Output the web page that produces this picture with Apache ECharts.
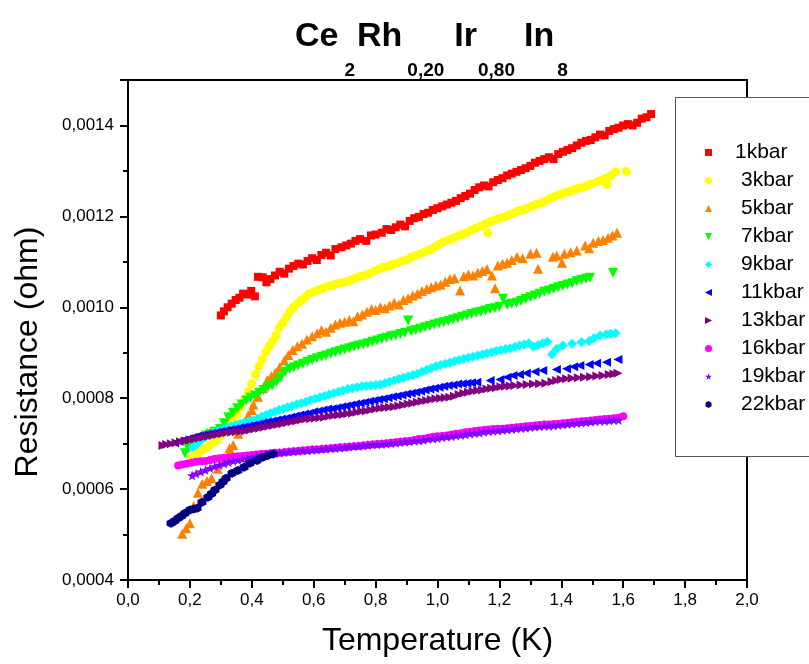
<!DOCTYPE html>
<html>
<head>
<meta charset="utf-8">
<script src="https://cdn.jsdelivr.net/npm/echarts@6/dist/echarts.min.js"></script>
<style>
  html, body { margin: 0; padding: 0; background: #fff; }
  #chart { width: 809px; height: 664px; }
</style>
</head>
<body>
<div id="chart"></div>
<script>
// Resistance R (ohm) versus temperature T (K), one list of [T, R] per pressure.
const p1kbar = [[0.300,0.000982],[0.310,0.000991],[0.322,0.001000],[0.335,0.001008],[0.348,0.001016],[0.360,0.001021],[0.372,0.001030],[0.385,0.001028],[0.398,0.001036],[0.410,0.001024],[0.420,0.001067],[0.435,0.001066],[0.447,0.001055],[0.460,0.001062],[0.475,0.001070],[0.490,0.001078],[0.505,0.001074],[0.520,0.001085],[0.535,0.001091],[0.550,0.001096],[0.565,0.001094],[0.580,0.001102],[0.595,0.001108],[0.610,0.001104],[0.625,0.001115],[0.640,0.001120],[0.655,0.001114],[0.670,0.001128],[0.690,0.001132],[0.705,0.001136],[0.720,0.001140],[0.735,0.001146],[0.750,0.001150],[0.770,0.001146],[0.785,0.001158],[0.800,0.001160],[0.820,0.001164],[0.835,0.001172],[0.850,0.001170],[0.865,0.001176],[0.880,0.001182],[0.895,0.001178],[0.910,0.001190],[0.925,0.001196],[0.940,0.001199],[0.955,0.001205],[0.970,0.001208],[0.985,0.001214],[1.000,0.001218],[1.015,0.001222],[1.030,0.001226],[1.045,0.001230],[1.060,0.001234],[1.075,0.001240],[1.090,0.001245],[1.105,0.001250],[1.120,0.001258],[1.135,0.001264],[1.150,0.001268],[1.165,0.001266],[1.180,0.001275],[1.195,0.001280],[1.210,0.001284],[1.225,0.001290],[1.240,0.001294],[1.255,0.001298],[1.270,0.001302],[1.285,0.001306],[1.300,0.001311],[1.315,0.001318],[1.330,0.001322],[1.345,0.001326],[1.360,0.001330],[1.375,0.001326],[1.390,0.001337],[1.405,0.001342],[1.420,0.001346],[1.435,0.001350],[1.450,0.001356],[1.465,0.001362],[1.480,0.001366],[1.495,0.001368],[1.510,0.001374],[1.525,0.001380],[1.540,0.001378],[1.555,0.001388],[1.570,0.001392],[1.585,0.001395],[1.600,0.001400],[1.615,0.001403],[1.630,0.001400],[1.645,0.001406],[1.660,0.001415],[1.675,0.001418],[1.690,0.001425]];

const p3kbar = [[0.205,0.000668],[0.215,0.000672],[0.228,0.000680],[0.240,0.000686],[0.252,0.000690],[0.265,0.000697],[0.278,0.000703],[0.290,0.000710],[0.302,0.000718],[0.315,0.000728],[0.328,0.000740],[0.340,0.000750],[0.352,0.000764],[0.364,0.000780],[0.376,0.000796],[0.388,0.000814],[0.400,0.000832],[0.412,0.000852],[0.423,0.000870],[0.434,0.000885],[0.445,0.000902],[0.456,0.000914],[0.467,0.000925],[0.478,0.000938],[0.489,0.000955],[0.500,0.000966],[0.512,0.000978],[0.523,0.000990],[0.535,0.001000],[0.548,0.001008],[0.560,0.001016],[0.573,0.001022],[0.585,0.001030],[0.600,0.001034],[0.615,0.001038],[0.630,0.001042],[0.645,0.001046],[0.660,0.001048],[0.675,0.001052],[0.690,0.001054],[0.705,0.001056],[0.720,0.001060],[0.735,0.001064],[0.750,0.001068],[0.765,0.001070],[0.780,0.001074],[0.795,0.001079],[0.810,0.001084],[0.825,0.001088],[0.840,0.001090],[0.855,0.001094],[0.870,0.001097],[0.885,0.001102],[0.900,0.001104],[0.915,0.001110],[0.930,0.001114],[0.945,0.001118],[0.960,0.001122],[0.975,0.001126],[0.990,0.001132],[1.005,0.001138],[1.020,0.001144],[1.035,0.001148],[1.050,0.001152],[1.065,0.001156],[1.080,0.001160],[1.095,0.001164],[1.110,0.001170],[1.125,0.001174],[1.140,0.001178],[1.155,0.001184],[1.163,0.001164],[1.170,0.001188],[1.185,0.001192],[1.200,0.001196],[1.215,0.001198],[1.230,0.001203],[1.245,0.001207],[1.260,0.001212],[1.275,0.001214],[1.290,0.001218],[1.305,0.001222],[1.320,0.001226],[1.335,0.001230],[1.350,0.001234],[1.365,0.001240],[1.380,0.001244],[1.395,0.001248],[1.410,0.001252],[1.425,0.001254],[1.440,0.001258],[1.455,0.001262],[1.470,0.001264],[1.485,0.001268],[1.500,0.001272],[1.515,0.001276],[1.530,0.001280],[1.545,0.001284],[1.548,0.001270],[1.560,0.001290],[1.575,0.001298],[1.610,0.001299]];

const p5kbar = [[0.175,0.000502],[0.188,0.000514],[0.200,0.000525],[0.212,0.000563],[0.226,0.000592],[0.240,0.000612],[0.255,0.000618],[0.270,0.000624],[0.290,0.000645],[0.310,0.000668],[0.328,0.000690],[0.340,0.000697],[0.356,0.000722],[0.372,0.000745],[0.388,0.000762],[0.400,0.000774],[0.405,0.000786],[0.420,0.000803],[0.436,0.000822],[0.450,0.000840],[0.463,0.000848],[0.476,0.000856],[0.490,0.000868],[0.505,0.000883],[0.518,0.000895],[0.532,0.000906],[0.547,0.000914],[0.562,0.000920],[0.578,0.000929],[0.595,0.000936],[0.611,0.000943],[0.625,0.000950],[0.640,0.000946],[0.655,0.000955],[0.670,0.000962],[0.685,0.000966],[0.700,0.000968],[0.715,0.000972],[0.728,0.000969],[0.742,0.000980],[0.757,0.000984],[0.772,0.000990],[0.787,0.000996],[0.800,0.000994],[0.815,0.001000],[0.830,0.000998],[0.845,0.001004],[0.860,0.001010],[0.875,0.001006],[0.890,0.001016],[0.905,0.001020],[0.920,0.001026],[0.935,0.001030],[0.950,0.001036],[0.965,0.001040],[0.980,0.001044],[0.995,0.001048],[1.010,0.001050],[1.025,0.001056],[1.040,0.001062],[1.055,0.001064],[1.073,0.001037],[1.085,0.001068],[1.100,0.001072],[1.115,0.001070],[1.130,0.001076],[1.145,0.001080],[1.160,0.001084],[1.176,0.001070],[1.186,0.001042],[1.195,0.001092],[1.210,0.001096],[1.225,0.001098],[1.240,0.001104],[1.257,0.001111],[1.275,0.001108],[1.300,0.001118],[1.320,0.001120],[1.325,0.001085],[1.373,0.001111],[1.385,0.001114],[1.402,0.001098],[1.410,0.001118],[1.430,0.001121],[1.450,0.001125],[1.477,0.001136],[1.490,0.001130],[1.503,0.001142],[1.520,0.001146],[1.535,0.001148],[1.551,0.001153],[1.565,0.001158],[1.580,0.001164]];

const p7kbar = [[0.184,0.000679],[0.195,0.000690],[0.208,0.000700],[0.223,0.000705],[0.238,0.000712],[0.252,0.000718],[0.266,0.000722],[0.280,0.000726],[0.297,0.000732],[0.310,0.000745],[0.324,0.000758],[0.339,0.000768],[0.353,0.000778],[0.367,0.000786],[0.382,0.000795],[0.396,0.000801],[0.410,0.000806],[0.424,0.000812],[0.438,0.000818],[0.452,0.000824],[0.466,0.000828],[0.480,0.000836],[0.494,0.000846],[0.508,0.000858],[0.522,0.000864],[0.536,0.000868],[0.550,0.000872],[0.565,0.000876],[0.580,0.000880],[0.595,0.000884],[0.610,0.000888],[0.625,0.000891],[0.640,0.000894],[0.655,0.000898],[0.670,0.000901],[0.685,0.000904],[0.700,0.000907],[0.715,0.000910],[0.730,0.000913],[0.745,0.000916],[0.760,0.000918],[0.775,0.000921],[0.790,0.000924],[0.805,0.000927],[0.820,0.000930],[0.835,0.000933],[0.850,0.000936],[0.865,0.000938],[0.880,0.000941],[0.895,0.000944],[0.905,0.000971],[0.915,0.000947],[0.930,0.000950],[0.945,0.000953],[0.960,0.000956],[0.975,0.000959],[0.990,0.000962],[1.005,0.000965],[1.020,0.000967],[1.035,0.000970],[1.050,0.000973],[1.065,0.000976],[1.080,0.000979],[1.095,0.000982],[1.110,0.000985],[1.125,0.000988],[1.140,0.000990],[1.155,0.000993],[1.170,0.000996],[1.185,0.000998],[1.200,0.001001],[1.212,0.001019],[1.225,0.001005],[1.240,0.001008],[1.255,0.001010],[1.270,0.001014],[1.285,0.001018],[1.300,0.001022],[1.315,0.001026],[1.330,0.001030],[1.345,0.001034],[1.360,0.001037],[1.375,0.001040],[1.390,0.001044],[1.405,0.001047],[1.420,0.001050],[1.435,0.001053],[1.450,0.001057],[1.465,0.001060],[1.480,0.001063],[1.493,0.001065],[1.567,0.001076]];

const p9kbar = [[0.210,0.000692],[0.222,0.000698],[0.236,0.000708],[0.250,0.000714],[0.264,0.000719],[0.278,0.000724],[0.292,0.000728],[0.306,0.000732],[0.320,0.000735],[0.334,0.000738],[0.348,0.000741],[0.362,0.000744],[0.376,0.000746],[0.390,0.000749],[0.404,0.000751],[0.418,0.000755],[0.432,0.000759],[0.446,0.000763],[0.460,0.000767],[0.474,0.000770],[0.488,0.000774],[0.502,0.000777],[0.516,0.000780],[0.530,0.000783],[0.545,0.000786],[0.560,0.000789],[0.575,0.000792],[0.590,0.000796],[0.605,0.000799],[0.620,0.000802],[0.635,0.000805],[0.650,0.000808],[0.665,0.000811],[0.680,0.000814],[0.695,0.000817],[0.710,0.000820],[0.725,0.000822],[0.740,0.000824],[0.755,0.000826],[0.770,0.000827],[0.785,0.000828],[0.800,0.000829],[0.815,0.000830],[0.830,0.000833],[0.845,0.000836],[0.860,0.000839],[0.875,0.000842],[0.890,0.000845],[0.905,0.000848],[0.920,0.000851],[0.935,0.000854],[0.950,0.000858],[0.965,0.000862],[0.980,0.000866],[0.995,0.000870],[1.010,0.000873],[1.025,0.000876],[1.040,0.000878],[1.055,0.000881],[1.070,0.000884],[1.085,0.000887],[1.100,0.000889],[1.115,0.000891],[1.130,0.000894],[1.145,0.000896],[1.160,0.000899],[1.175,0.000901],[1.190,0.000904],[1.205,0.000906],[1.220,0.000908],[1.235,0.000910],[1.250,0.000913],[1.265,0.000916],[1.280,0.000918],[1.295,0.000921],[1.310,0.000913],[1.325,0.000917],[1.340,0.000921],[1.355,0.000924],[1.370,0.000896],[1.385,0.000908],[1.405,0.000916],[1.435,0.000920],[1.465,0.000923],[1.490,0.000926],[1.505,0.000932],[1.525,0.000938],[1.545,0.000940],[1.560,0.000942],[1.575,0.000943]];

const p11kbar = [[0.150,0.000702],[0.165,0.000705],[0.180,0.000708],[0.195,0.000711],[0.210,0.000714],[0.225,0.000717],[0.240,0.000719],[0.255,0.000721],[0.270,0.000723],[0.285,0.000725],[0.300,0.000727],[0.315,0.000729],[0.330,0.000731],[0.345,0.000733],[0.360,0.000735],[0.375,0.000737],[0.390,0.000739],[0.405,0.000741],[0.420,0.000743],[0.435,0.000746],[0.450,0.000748],[0.465,0.000750],[0.480,0.000752],[0.495,0.000754],[0.510,0.000756],[0.525,0.000758],[0.540,0.000761],[0.555,0.000763],[0.570,0.000765],[0.585,0.000767],[0.600,0.000770],[0.615,0.000772],[0.630,0.000774],[0.645,0.000776],[0.660,0.000777],[0.675,0.000779],[0.690,0.000781],[0.705,0.000783],[0.720,0.000785],[0.735,0.000787],[0.750,0.000789],[0.765,0.000791],[0.780,0.000793],[0.795,0.000795],[0.810,0.000797],[0.825,0.000799],[0.840,0.000801],[0.855,0.000803],[0.870,0.000805],[0.885,0.000807],[0.900,0.000809],[0.915,0.000811],[0.930,0.000813],[0.945,0.000815],[0.960,0.000818],[0.975,0.000820],[0.990,0.000822],[1.005,0.000824],[1.020,0.000826],[1.035,0.000828],[1.050,0.000829],[1.065,0.000831],[1.080,0.000832],[1.095,0.000833],[1.110,0.000834],[1.127,0.000835],[1.170,0.000839],[1.202,0.000841],[1.225,0.000846],[1.244,0.000850],[1.265,0.000852],[1.287,0.000855],[1.315,0.000858],[1.340,0.000861],[1.384,0.000863],[1.417,0.000865],[1.440,0.000869],[1.460,0.000872],[1.490,0.000874],[1.514,0.000877],[1.546,0.000879],[1.583,0.000885]];

const p13kbar = [[0.113,0.000696],[0.125,0.000698],[0.140,0.000700],[0.155,0.000702],[0.170,0.000704],[0.185,0.000706],[0.200,0.000708],[0.215,0.000710],[0.230,0.000712],[0.245,0.000714],[0.260,0.000716],[0.275,0.000718],[0.290,0.000720],[0.305,0.000722],[0.320,0.000724],[0.335,0.000725],[0.350,0.000726],[0.365,0.000727],[0.380,0.000728],[0.395,0.000730],[0.410,0.000732],[0.425,0.000734],[0.440,0.000736],[0.455,0.000738],[0.470,0.000740],[0.485,0.000742],[0.500,0.000744],[0.515,0.000746],[0.530,0.000748],[0.545,0.000750],[0.560,0.000752],[0.575,0.000754],[0.590,0.000755],[0.605,0.000756],[0.620,0.000757],[0.635,0.000758],[0.650,0.000760],[0.665,0.000762],[0.680,0.000763],[0.695,0.000764],[0.710,0.000766],[0.725,0.000767],[0.740,0.000769],[0.755,0.000771],[0.770,0.000772],[0.785,0.000774],[0.800,0.000776],[0.815,0.000778],[0.830,0.000779],[0.845,0.000780],[0.860,0.000781],[0.875,0.000783],[0.890,0.000785],[0.905,0.000787],[0.920,0.000789],[0.935,0.000791],[0.950,0.000793],[0.965,0.000795],[0.980,0.000797],[0.995,0.000799],[1.010,0.000800],[1.025,0.000801],[1.040,0.000802],[1.055,0.000804],[1.070,0.000808],[1.085,0.000811],[1.100,0.000813],[1.115,0.000815],[1.130,0.000817],[1.145,0.000818],[1.160,0.000820],[1.175,0.000822],[1.190,0.000823],[1.205,0.000825],[1.220,0.000826],[1.235,0.000827],[1.250,0.000828],[1.270,0.000829],[1.290,0.000830],[1.310,0.000831],[1.330,0.000832],[1.350,0.000833],[1.370,0.000836],[1.385,0.000839],[1.400,0.000841],[1.417,0.000843],[1.435,0.000844],[1.455,0.000845],[1.475,0.000846],[1.495,0.000847],[1.515,0.000849],[1.535,0.000850],[1.555,0.000852],[1.570,0.000853],[1.583,0.000855]];

const p16kbar = [[0.162,0.000652],[0.175,0.000654],[0.190,0.000656],[0.205,0.000658],[0.220,0.000660],[0.235,0.000661],[0.250,0.000662],[0.265,0.000664],[0.280,0.000666],[0.295,0.000668],[0.310,0.000669],[0.325,0.000670],[0.340,0.000671],[0.355,0.000672],[0.370,0.000673],[0.385,0.000674],[0.400,0.000675],[0.415,0.000676],[0.430,0.000677],[0.445,0.000678],[0.460,0.000679],[0.475,0.000680],[0.490,0.000680],[0.505,0.000681],[0.520,0.000682],[0.535,0.000683],[0.550,0.000684],[0.565,0.000685],[0.580,0.000686],[0.595,0.000687],[0.610,0.000687],[0.625,0.000688],[0.640,0.000689],[0.655,0.000690],[0.670,0.000691],[0.685,0.000692],[0.700,0.000692],[0.715,0.000693],[0.730,0.000694],[0.745,0.000695],[0.760,0.000696],[0.775,0.000697],[0.790,0.000698],[0.805,0.000699],[0.820,0.000700],[0.835,0.000701],[0.850,0.000702],[0.865,0.000703],[0.880,0.000704],[0.895,0.000705],[0.910,0.000706],[0.925,0.000708],[0.940,0.000710],[0.955,0.000711],[0.970,0.000713],[0.985,0.000715],[1.000,0.000716],[1.015,0.000717],[1.030,0.000718],[1.045,0.000720],[1.060,0.000722],[1.075,0.000723],[1.090,0.000725],[1.105,0.000726],[1.120,0.000728],[1.135,0.000729],[1.150,0.000730],[1.165,0.000731],[1.180,0.000732],[1.195,0.000733],[1.210,0.000733],[1.225,0.000734],[1.240,0.000735],[1.255,0.000736],[1.270,0.000737],[1.285,0.000738],[1.300,0.000739],[1.315,0.000740],[1.330,0.000741],[1.345,0.000742],[1.360,0.000742],[1.375,0.000743],[1.390,0.000744],[1.405,0.000745],[1.420,0.000746],[1.435,0.000747],[1.450,0.000748],[1.465,0.000749],[1.480,0.000750],[1.495,0.000751],[1.510,0.000752],[1.525,0.000753],[1.540,0.000754],[1.555,0.000755],[1.570,0.000756],[1.585,0.000757],[1.600,0.000760]];

const p19kbar = [[0.207,0.000630],[0.220,0.000634],[0.235,0.000638],[0.250,0.000642],[0.265,0.000646],[0.280,0.000650],[0.295,0.000653],[0.310,0.000656],[0.325,0.000659],[0.340,0.000662],[0.355,0.000664],[0.370,0.000666],[0.385,0.000668],[0.400,0.000670],[0.415,0.000672],[0.430,0.000674],[0.445,0.000676],[0.460,0.000678],[0.475,0.000679],[0.490,0.000680],[0.505,0.000681],[0.520,0.000682],[0.535,0.000683],[0.550,0.000684],[0.565,0.000685],[0.580,0.000685],[0.595,0.000686],[0.610,0.000687],[0.625,0.000688],[0.640,0.000689],[0.655,0.000690],[0.670,0.000690],[0.685,0.000691],[0.700,0.000692],[0.715,0.000693],[0.730,0.000694],[0.745,0.000695],[0.760,0.000696],[0.775,0.000697],[0.790,0.000698],[0.805,0.000698],[0.820,0.000699],[0.835,0.000700],[0.850,0.000701],[0.865,0.000702],[0.880,0.000703],[0.895,0.000704],[0.910,0.000705],[0.925,0.000706],[0.940,0.000707],[0.955,0.000708],[0.970,0.000710],[0.985,0.000711],[1.000,0.000712],[1.015,0.000714],[1.030,0.000715],[1.045,0.000716],[1.060,0.000718],[1.075,0.000719],[1.090,0.000720],[1.105,0.000722],[1.120,0.000723],[1.135,0.000724],[1.150,0.000726],[1.165,0.000727],[1.180,0.000728],[1.195,0.000729],[1.210,0.000730],[1.225,0.000731],[1.240,0.000732],[1.255,0.000733],[1.270,0.000734],[1.285,0.000735],[1.300,0.000736],[1.315,0.000737],[1.330,0.000738],[1.345,0.000739],[1.360,0.000739],[1.375,0.000740],[1.390,0.000741],[1.405,0.000742],[1.420,0.000743],[1.435,0.000744],[1.450,0.000745],[1.465,0.000746],[1.480,0.000747],[1.495,0.000748],[1.510,0.000749],[1.525,0.000750],[1.540,0.000750],[1.555,0.000751],[1.570,0.000752],[1.585,0.000752]];

const p22kbar = [[0.139,0.000525],[0.151,0.000530],[0.162,0.000536],[0.173,0.000541],[0.184,0.000547],[0.200,0.000554],[0.212,0.000556],[0.223,0.000558],[0.239,0.000571],[0.258,0.000582],[0.270,0.000590],[0.281,0.000598],[0.297,0.000609],[0.307,0.000616],[0.317,0.000624],[0.336,0.000635],[0.355,0.000641],[0.375,0.000648],[0.394,0.000657],[0.417,0.000663],[0.436,0.000670],[0.452,0.000674],[0.469,0.000677]];

// Axis ranges and tick steps
const xRange = [0, 2.0];
const xStep = 0.2;
const yRange = [0.0004, 0.0015];
const yStep = 0.0002;

const FONT = '"Liberation Sans", Arial, Helvetica, sans-serif';

// Marker shapes
const SYM = {
  down:  'path://M0,0L10,0L5,10Z',
  left:  'path://M10,0L10,10L0,5Z',
  right: 'path://M0,0L10,5L0,10Z',
  star:  'path://M5,0L6.2,3.6L10,3.6L6.9,5.9L8.1,9.5L5,7.3L1.9,9.5L3.1,5.9L0,3.6L3.8,3.6Z',
  hex:   'path://M5,0L9.33,2.5L9.33,7.5L5,10L0.67,7.5L0.67,2.5Z'
};

const seriesDefs = [
  { name: '1kbar',  data: p1kbar,  color: '#ff0000', symbol: 'rect',     size: 8 },
  { name: '3kbar',  data: p3kbar,  color: '#ffff00', symbol: 'circle',   size: 9 },
  { name: '5kbar',  data: p5kbar,  color: '#ff8000', symbol: 'triangle', size: 10 },
  { name: '7kbar',  data: p7kbar,  color: '#00ff00', symbol: SYM.down,   size: 10 },
  { name: '9kbar',  data: p9kbar,  color: '#00ffff', symbol: 'diamond',  size: 10 },
  { name: '11kbar', data: p11kbar, color: '#0000ff', symbol: SYM.left,   size: 9 },
  { name: '13kbar', data: p13kbar, color: '#800080', symbol: SYM.right,  size: 9 },
  { name: '16kbar', data: p16kbar, color: '#ff00ff', symbol: 'circle',   size: 8 },
  { name: '19kbar', data: p19kbar, color: '#8000ff', symbol: SYM.star,   size: 10 },
  { name: '22kbar', data: p22kbar, color: '#000080', symbol: SYM.hex,    size: 9 }
];

const axisLine = { show: true, onZero: false, lineStyle: { color: '#000', width: 2 } };
const hidden = { show: false };

const titleBase = { fontFamily: FONT, fontWeight: 'bold', color: '#000' };
const big = (pr) => Object.assign({ fontSize: 34, lineHeight: 40, padding: [0, pr, 24, 0] }, titleBase);
const sub = (pr) => Object.assign({ fontSize: 19, lineHeight: 20, padding: [44, pr, 0, 0] }, titleBase);

const chart = echarts.init(document.getElementById('chart'), null, { renderer: 'canvas' });

chart.setOption({
  animation: false,
  backgroundColor: '#fff',
  title: {
    text: '{a|Ce}{b|2}{c|Rh}{d|0,20}{e|Ir}{f|0,80}{g|In}{h|8}',
    left: 295,
    top: 29,
    padding: 0,
    textStyle: {
      rich: {
        a: big(6), b: sub(2), c: big(5), d: sub(10),
        e: big(1), f: sub(9), g: big(3), h: sub(0)
      }
    }
  },
  grid: { left: 128, right: 62, top: 80, bottom: 84, containLabel: false, outerBoundsMode: 'none' },
  xAxis: [
    {
      type: 'value', min: xRange[0], max: xRange[1], interval: xStep, position: 'bottom',
      axisLine: axisLine,
      axisTick: { show: true, inside: false, length: 8, lineStyle: { color: '#000', width: 2 } },
      minorTick: { show: true, splitNumber: 2, length: 5, lineStyle: { color: '#000', width: 2 } },
      axisLabel: {
        margin: 12, fontSize: 17, color: '#000', fontFamily: FONT,
        formatter: (v) => v.toFixed(1).replace('.', ',')
      },
      splitLine: hidden, minorSplitLine: hidden,
      name: 'Temperature (K)', nameLocation: 'middle', nameGap: 45,
      nameTextStyle: { fontSize: 32, color: '#000', fontFamily: FONT }
    },
    {
      type: 'value', min: xRange[0], max: xRange[1], position: 'top',
      axisLine: axisLine, axisTick: hidden, axisLabel: hidden, splitLine: hidden
    }
  ],
  yAxis: [
    {
      type: 'value', min: yRange[0], max: yRange[1], interval: yStep, position: 'left',
      axisLine: axisLine,
      axisTick: { show: true, inside: false, length: 8, lineStyle: { color: '#000', width: 2 } },
      minorTick: { show: true, splitNumber: 2, length: 5, lineStyle: { color: '#000', width: 2 } },
      axisLabel: {
        margin: 14, fontSize: 17, color: '#000', fontFamily: FONT, showMaxLabel: false,
        formatter: (v) => v.toFixed(4).replace('.', ',')
      },
      splitLine: hidden, minorSplitLine: hidden,
      name: 'Resistance (ohm)', nameLocation: 'middle', nameGap: 84, nameRotate: 90,
      nameTextStyle: { fontSize: 32, color: '#000', fontFamily: FONT, padding: [0, 44, 0, 0] }
    },
    {
      type: 'value', min: yRange[0], max: yRange[1], position: 'right',
      axisLine: axisLine, axisTick: hidden, axisLabel: hidden, splitLine: hidden
    }
  ],
  legend: {
    orient: 'vertical',
    left: 705,
    top: 142,
    padding: 0,
    itemWidth: 7,
    itemHeight: 7,
    itemGap: 7,
    z: 20,
    data: seriesDefs.map((s) => s.name),
    formatter: (name) => (name === '1kbar' ? '{p|' + name + '}' : '{q|' + name + '}'),
    textStyle: {
      color: '#000',
      rich: {
        p: { fontSize: 21, lineHeight: 20, fontFamily: FONT, color: '#000', padding: [0, 0, 0, 18] },
        q: { fontSize: 21, lineHeight: 20, fontFamily: FONT, color: '#000', padding: [0, 0, 0, 24] }
      }
    }
  },
  graphic: {
    elements: [
      {
        type: 'rect', z: 10,
        shape: { x: 675.5, y: 97.5, width: 200, height: 359 },
        style: { fill: '#fff', stroke: '#555', lineWidth: 1 }
      }
    ]
  },
  series: seriesDefs.map((s) => ({
    name: s.name,
    type: 'scatter',
    data: s.data,
    symbol: s.symbol,
    symbolSize: s.size,
    itemStyle: { color: s.color, opacity: 1 },
    emphasis: { disabled: true },
    z: 2
  }))
});
</script>
</body>
</html>
